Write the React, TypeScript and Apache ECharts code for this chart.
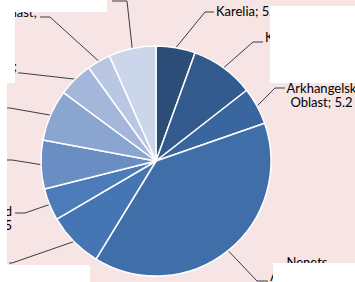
import React, { useEffect, useRef } from 'react';
import * as echarts from 'echarts';

// ---- data ----
const regions = [
  'Karelia',
  'Komi Republic',
  'Arkhangelsk Oblast',
  'Nenets Autonomous Okrug',
  'Vologda Oblast',
  'Kaliningrad Oblast',
  'Leningrad Oblast',
  'Murmansk Oblast',
  'Novgorod Oblast',
  'Pskov Oblast',
  'Saint Petersburg',
];
const shares = [5.5, 8.9, 5.2, 38.9, 7.8, 4.5, 6.8, 7.2, 4.9, 3.3, 6.6];

// how each data label wraps (%v = value)
const labelTemplates = [
  'Karelia; %v',
  'Komi Republic;\n%v',
  'Arkhangelsk\nOblast; %v',
  'Nenets\nAutonomous\nOkrug; %v',
  'Vologda Oblast;\n%v',
  'Kaliningrad\nOblast; %v',
  'Leningrad Oblast;\n%v',
  'Murmansk Oblast;\n%v',
  'Novgorod Oblast;\n%v',
  'Pskov Oblast;\n%v',
  'Saint Petersburg;\n%v',
];

// ---- styles / layout ----
const sliceColors = [
  '#2c4d77', '#335a8c', '#3a66a0', '#3f6ea9', '#4575b2', '#4b7bb8',
  '#6a8dc4', '#8ba5d1', '#a4b7db', '#b9c7e3', '#cbd6eb',
];
const FONT = 'Lato, "Open Sans", sans-serif';
const FONT_SIZE = 13;
const LINE_H = 14;
const CENTER: [number, number] = [156, 161];
const RADIUS = 115;

type Place = {
  x: number; y: number; align: 'left' | 'right' | 'center';
  from?: 'left' | 'right';
  elbow: [number, number]; end: [number, number];
};
const labelPlacement: Place[] = [
  { x: 216, y: 11, align: 'left', elbow: [205, 12], end: [214, 12] },
  { x: 265, y: 44, align: 'center', from: 'left', elbow: [253, 42], end: [263, 42] },
  { x: 321.5, y: 94.5, align: 'center', elbow: [275, 88], end: [285, 88] },
  { x: 307, y: 275.5, align: 'center', elbow: [257, 281], end: [268, 281] },
  { x: 6, y: 281, align: 'right', elbow: [12, 263], end: [9, 263] },
  { x: 12, y: 218, align: 'right', elbow: [25, 213], end: [15, 213] },
  { x: 0, y: 160, align: 'right', elbow: [12, 160], end: [2, 160] },
  { x: 5, y: 112, align: 'right', elbow: [10, 108], end: [7, 108] },
  { x: 17, y: 73, align: 'center', from: 'right', elbow: [21, 73], end: [18, 73] },
  { x: 37, y: 19, align: 'center', from: 'right', elbow: [50, 17], end: [40, 17] },
  { x: 108, y: -14, align: 'right', elbow: [127, 1], end: [112, 1] },
];

// white cover panels present in the reference picture
const covers = [
  [0, 0, 107, 12],
  [0, 0, 15, 83],
  [0, 83, 7, 182],
  [0, 265, 90, 17],
  [270, 6, 85, 77],
  [273, 263, 82, 19],
];

function labelText(i: number) {
  return labelTemplates[i].replace('%v', shares[i].toFixed(1));
}

export default function App() {
  const ref = useRef<HTMLDivElement>(null);

  useEffect(() => {
    document.body.style.margin = '0';
    if (!ref.current) return;
    const chart = echarts.init(ref.current, undefined, { renderer: 'svg' });

    const canvas = document.createElement('canvas');
    const ctx = canvas.getContext('2d');
    const measure = (s: string) => {
      if (!ctx) return s.length * 6.5;
      ctx.font = `${FONT_SIZE}px ${FONT}`;
      return ctx.measureText(s).width;
    };

    const total = shares.reduce((a, b) => a + b, 0);

    chart.setOption({
      animation: false,
      backgroundColor: '#f7e4e4',
      series: [
        {
          type: 'pie',
          center: CENTER,
          radius: RADIUS,
          startAngle: 90,
          clockwise: true,
          avoidLabelOverlap: false,
          itemStyle: { borderColor: '#ffffff', borderWidth: 1.5 },
          label: {
            show: true,
            position: 'outside',
            formatter: (p: any) => labelText(p.dataIndex),
            fontFamily: FONT,
            fontSize: FONT_SIZE,
            lineHeight: LINE_H,
            color: '#000000',
          },
          labelLine: {
            show: true,
            length: 10,
            length2: 10,
            lineStyle: { color: '#3c3c3c', width: 1 },
          },
          labelLayout: (p: any) => {
            const i = p.dataIndex;
            const L = labelPlacement[i];
            let x = L.x;
            if (L.from) {
              const first = labelText(i).split('\n')[0];
              const w = measure(first);
              x = L.from === 'left' ? L.x + w / 2 : L.x - w / 2;
            }
            let start = p.labelLinePoints && p.labelLinePoints[0];
            if (!start) {
              let acc = 0;
              for (let k = 0; k < i; k++) acc += shares[k];
              const mid = ((acc + shares[i] / 2) / total) * Math.PI * 2;
              start = [CENTER[0] + RADIUS * Math.sin(mid), CENTER[1] - RADIUS * Math.cos(mid)];
            }
            return {
              x,
              y: L.y,
              align: L.align,
              verticalAlign: 'middle',
              labelLinePoints: [start, L.elbow, L.end],
            };
          },
          data: regions.map((name, i) => ({
            name,
            value: shares[i],
            itemStyle: { color: sliceColors[i] },
          })),
        },
      ],
      graphic: covers.map((c) => ({
        type: 'rect',
        z: 100,
        silent: true,
        shape: { x: c[0], y: c[1], width: c[2], height: c[3] },
        style: { fill: '#ffffff' },
      })),
    });

    return () => chart.dispose();
  }, []);

  return <div ref={ref} style={{ width: 355, height: 282 }} />;
}
